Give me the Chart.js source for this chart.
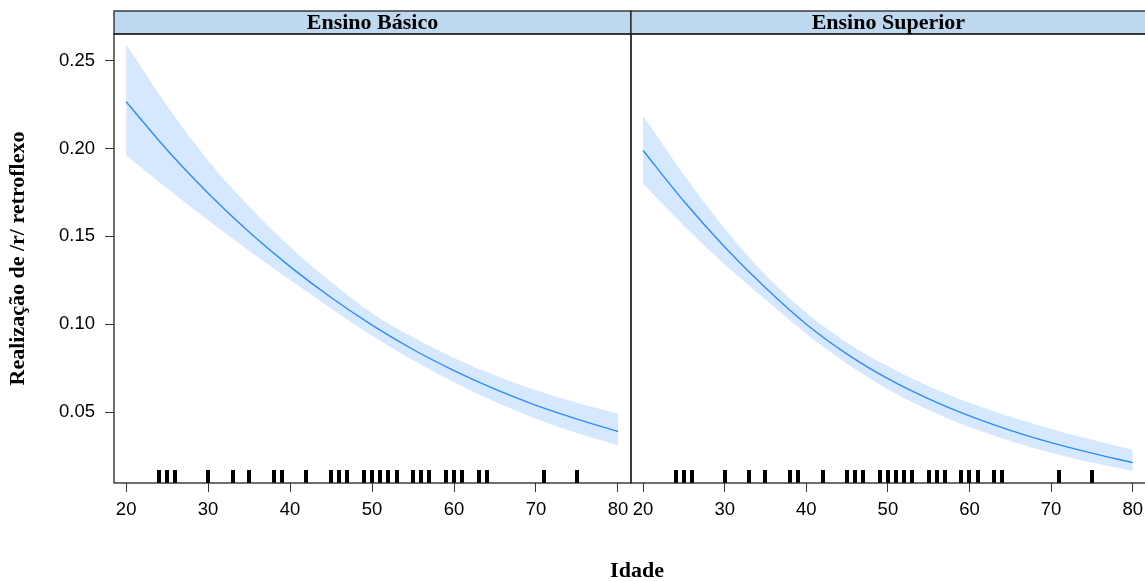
<!DOCTYPE html>
<html>
<head>
<meta charset="utf-8">
<script src="https://cdn.jsdelivr.net/npm/chart.js@4.4.1/dist/chart.umd.min.js"></script>
<style>
  html, body { margin: 0; padding: 0; background: #fff; overflow: hidden; }
  body { width: 1145px; height: 581px; position: relative; }
  canvas { position: absolute; top: 0; }
  #panelBasico { left: 0; }
  #panelSuperior { left: 611px; }
  #xTitle {
    position: absolute; left: 537px; width: 200px; top: 558px;
    text-align: center; font: bold 22px "Liberation Serif", serif; line-height: 24px; color: #000;
  }
</style>
</head>
<body>
<canvas id="panelBasico" width="640" height="581"></canvas>
<canvas id="panelSuperior" width="539" height="581"></canvas>
<div id="xTitle">Idade</div>
<script>
const ages = [20, 25, 30, 35, 40, 45, 50, 55, 60, 65, 70, 75, 80];

const basicoFit   = [0.2266, 0.1992, 0.1746, 0.1525, 0.1328, 0.1152, 0.0995, 0.0856, 0.0736, 0.0630, 0.0538, 0.0460, 0.0389];
const basicoUpper = [0.2593, 0.2242, 0.1932, 0.1670, 0.1440, 0.1240, 0.1063, 0.0925, 0.0808, 0.0708, 0.0624, 0.0553, 0.0491];
const basicoLower = [0.1962, 0.1772, 0.1592, 0.1418, 0.1252, 0.1090, 0.0935, 0.0795, 0.0670, 0.0558, 0.0462, 0.0380, 0.0311];

const superiorFit   = [0.1989, 0.1700, 0.1440, 0.1207, 0.1000, 0.0830, 0.0690, 0.0575, 0.0478, 0.0396, 0.0326, 0.0266, 0.0212];
const superiorUpper = [0.2186, 0.1850, 0.1545, 0.1280, 0.1065, 0.0895, 0.0760, 0.0647, 0.0553, 0.0473, 0.0404, 0.0343, 0.0285];
const superiorLower = [0.1799, 0.1560, 0.1340, 0.1140, 0.0945, 0.0775, 0.0630, 0.0512, 0.0415, 0.0335, 0.0268, 0.0212, 0.0165];

// observed ages (rug)
const rugAges = [24, 25, 26, 30, 33, 35, 38, 39, 42, 45, 46, 47, 49, 50, 51, 52, 53, 55, 56, 57, 59, 60, 61, 63, 64, 71, 75];

const xTicks = [20, 30, 40, 50, 60, 70, 80];
const yTicks = [0.05, 0.10, 0.15, 0.20, 0.25];

const lineColor = '#2b8cff';
const bandColor = '#d6e8fd';
const stripColor = '#bed8ef';

const panelDecor = {
    id: 'panelDecor',
    afterDatasetsDraw(chart, args, opts) {
        const { ctx, chartArea: a } = chart;
        const x = chart.scales.x;
        const w = a.right - a.left;
        ctx.save();

        // rug marks along the bottom
        ctx.fillStyle = '#000';
        rugAges.forEach(function (age) {
            const px = Math.round(x.getPixelForValue(age));
            ctx.fillRect(px - 2, a.bottom - 13, 4, 13);
        });

        // strip + frame
        ctx.fillStyle = stripColor;
        ctx.fillRect(a.left, 11, w, a.top - 11);
        ctx.strokeStyle = '#222';
        ctx.lineWidth = 1.3;
        ctx.strokeRect(a.left, 11, w, a.top - 11);
        ctx.strokeRect(a.left, a.top, w, a.bottom - a.top);

        ctx.fillStyle = '#000';
        ctx.font = 'bold 22px "Liberation Serif"';
        ctx.textAlign = 'center';
        ctx.textBaseline = 'middle';
        ctx.fillText(opts.title, a.left + w / 2, (11 + a.top) / 2 + 1);
        ctx.restore();
    }
};

function makePanel(id, fit, upper, lower, title, showY, padding) {
    const pts = function (arr) {
        return ages.map(function (a, i) { return { x: a, y: arr[i] }; });
    };
    const tickFont = { family: 'Liberation Sans', size: 18.5 };

    return new Chart(document.getElementById(id), {
        type: 'line',
        data: {
            datasets: [{
                // confidence band: upper edge filled down to the next dataset
                data: pts(upper),
                order: 2,
                borderWidth: 0,
                borderColor: 'rgba(0,0,0,0)',
                backgroundColor: bandColor,
                pointRadius: 0,
                fill: '+1',
                cubicInterpolationMode: 'monotone'
            }, {
                data: pts(lower),
                order: 3,
                borderWidth: 0,
                borderColor: 'rgba(0,0,0,0)',
                pointRadius: 0,
                fill: false,
                cubicInterpolationMode: 'monotone'
            }, {
                data: pts(fit),
                order: 0,
                borderWidth: 1.4,
                borderColor: lineColor,
                pointRadius: 0,
                fill: false,
                cubicInterpolationMode: 'monotone'
            }]
        },
        options: {
            responsive: false,
            animation: false,
            events: [],
            layout: { padding: padding },
            plugins: {
                legend: { display: false },
                tooltip: { enabled: false },
                panelDecor: { title: title }
            },
            scales: {
                x: {
                    type: 'linear',
                    min: 18.52,
                    max: 81.59,
                    afterBuildTicks: function (s) { s.ticks = xTicks.map(function (v) { return { value: v }; }); },
                    afterFit: function (s) { s.height = 98; },
                    border: { display: false },
                    grid: { drawOnChartArea: false, drawTicks: true, tickLength: 9, color: '#333' },
                    ticks: {
                        font: tickFont, color: '#000', padding: 7,
                        maxRotation: 0, autoSkip: false,
                        callback: function (v) { return String(v); }
                    }
                },
                y: {
                    display: showY,
                    min: 0.0096,
                    max: 0.2652,
                    afterBuildTicks: function (s) { s.ticks = yTicks.map(function (v) { return { value: v }; }); },
                    afterFit: function (s) { if (s.options.display) s.width = 114; },
                    border: { display: false },
                    grid: { drawOnChartArea: false, drawTicks: true, tickLength: 9, color: '#333' },
                    title: {
                        display: true,
                        text: 'Realização de /r/ retroflexo',
                        font: { family: 'Liberation Serif', size: 22, weight: 'bold' },
                        color: '#000',
                        padding: { top: 5, bottom: 0 }
                    },
                    ticks: {
                        font: tickFont, color: '#000', padding: 10,
                        callback: function (v) { return v.toFixed(2); }
                    }
                }
            }
        },
        plugins: [panelDecor]
    });
}

makePanel('panelBasico', basicoFit, basicoUpper, basicoLower, 'Ensino Básico', true,
    { top: 34, right: 9, bottom: 0, left: 0 });
makePanel('panelSuperior', superiorFit, superiorUpper, superiorLower, 'Ensino Superior', false,
    { top: 34, right: 0, bottom: 0, left: 20 });
</script>
</body>
</html>
